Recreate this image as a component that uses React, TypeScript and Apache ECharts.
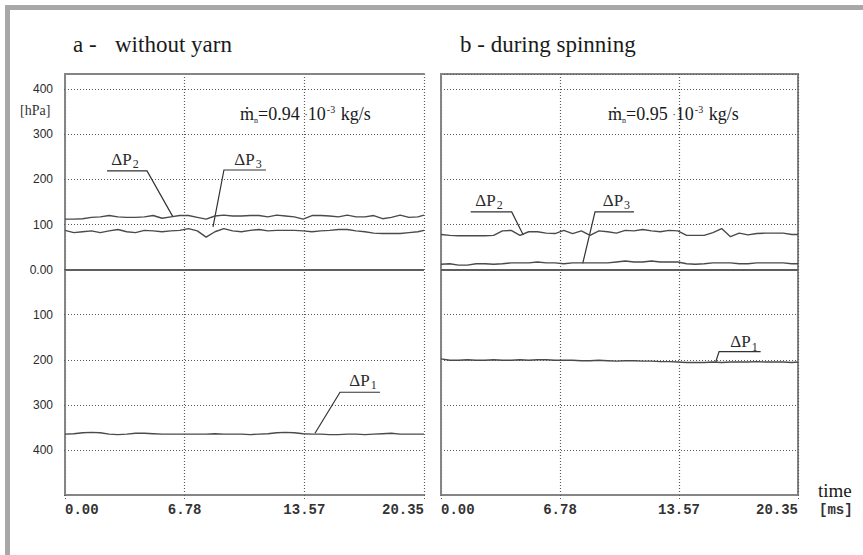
import React, { useEffect, useRef } from 'react';
import * as echarts from 'echarts';

// ---- sample times [ms] ----
const TIME_MS = [0, 0.5, 1, 1.5, 2, 2.5, 3, 3.5, 4, 4.5, 5, 5.5, 6, 6.5, 7, 7.5, 8, 8.5, 9, 9.5, 10, 10.5, 11, 11.5, 12, 12.5, 13, 13.5, 14, 14.5, 15, 15.5, 16, 16.5, 17, 17.5, 18, 18.5, 19, 19.5, 20, 20.35];

// ---- a - without yarn [hPa] ----
const A_DP2 = [112, 112, 113, 116, 117, 120, 117, 116, 116, 117, 120, 114, 117, 120, 120, 116, 112, 119, 121, 119, 119, 120, 120, 117, 121, 119, 117, 112, 120, 120, 119, 117, 121, 117, 117, 120, 113, 116, 121, 116, 117, 121];
const A_DP3 = [87, 82, 84, 86, 82, 86, 89, 84, 82, 87, 86, 84, 86, 87, 91, 86, 72, 84, 91, 86, 84, 87, 89, 86, 87, 87, 87, 86, 84, 86, 87, 89, 89, 86, 84, 81, 80, 80, 80, 82, 84, 87];
const A_DP1 = [-365, -364, -362, -361, -362, -365, -366, -365, -363, -363, -364, -365, -365, -365, -365, -365, -365, -364, -365, -365, -365, -366, -365, -364, -362, -361, -362, -364, -365, -365, -366, -366, -365, -365, -366, -365, -364, -363, -365, -365, -365, -365];

// ---- b - during spinning [hPa] ----
const B_DP2 = [78, 76, 75, 75, 75, 75, 76, 86, 87, 76, 84, 84, 81, 80, 87, 80, 86, 76, 86, 84, 81, 87, 86, 89, 86, 84, 87, 86, 76, 76, 76, 82, 91, 73, 81, 77, 80, 81, 81, 81, 78, 78];
const B_DP3 = [12, 13, 10, 10, 13, 13, 12, 13, 15, 15, 15, 17, 15, 15, 13, 15, 15, 15, 15, 15, 17, 19, 17, 17, 19, 17, 17, 17, 13, 12, 13, 15, 15, 15, 13, 13, 15, 15, 15, 15, 13, 13];
const B_DP1 = [-198, -201, -201, -200, -201, -201, -200, -201, -201, -200, -201, -200, -200, -201, -201, -201, -202, -202, -201, -202, -203, -202, -202, -203, -203, -204, -204, -205, -206, -206, -206, -205, -206, -205, -205, -205, -204, -205, -205, -205, -206, -205];

// ---- axes ----
const X_MAX = 20.35;
const X_TICKS = [0, 6.78, 13.57, 20.35];
const Y_MIN = -500;
const Y_MAX = 434;
const Y_TICK_VALUES = [400, 300, 200, 100, 0, -100, -200, -300, -400];
const Y_TICK_LABELS = ['400', '300', '200', '100', '0.00', '100', '200', '300', '400'];

// ---- texts ----
const TITLE_A_1 = 'a -';
const TITLE_A_2 = 'without yarn';
const TITLE_B = 'b - during spinning';
const FLOW_A = '0.94';
const FLOW_B = '0.95';

// annotation anchors in data coordinates [t, p]
const ANN_A = [
  { sub: '2', text: [3.4, 243], line: [[2.38, 219], [4.65, 219], [6.12, 117]] },
  { sub: '3', text: [10.37, 243], line: [[11.39, 221], [9.01, 221], [8.39, 95]] },
  { sub: '1', text: [16.89, -247], line: [[17.86, -272], [15.59, -272], [14.17, -363]] },
];
const ANN_B = [
  { sub: '2', text: [2.74, 152], line: [[1.69, 128], [4.03, 128], [4.69, 77]] },
  { sub: '3', text: [10.0, 152], line: [[11.0, 128], [8.78, 128], [8.08, 14]] },
  { sub: '1', text: [17.27, -162], line: [[18.22, -182], [15.85, -182], [15.66, -205]] },
];
const FLOW_POS_A = [9.92, 345];
const FLOW_POS_B = [9.52, 345];

const SERIF = "'Liberation Serif', 'DejaVu Serif', serif";
const MONO = "'Liberation Mono', 'DejaVu Sans Mono', monospace";
const SANS = "'Liberation Sans', Arial, sans-serif";
const LINE_C = '#4a4a4a';
const BORDER_C = '#858585';
const GRID_C = '#5a5a5a';
const TEXT_C = '#1a1a1a';

function pairs(vals: number[]) {
  return TIME_MS.map((t, i) => [t, vals[i]]);
}

function xLabel(v: number) {
  const hit = X_TICKS.find((x) => Math.abs(x - v) < 0.01);
  return hit !== undefined ? hit.toFixed(2) : '';
}
function yLabel(v: number) {
  const i = Y_TICK_VALUES.findIndex((y) => Math.abs(y - v) < 1e-6);
  return i >= 0 ? Y_TICK_LABELS[i] : '';
}

let measureCtx: CanvasRenderingContext2D | null = null;
function measure(text: string, size: number, family: string) {
  if (!measureCtx) measureCtx = document.createElement('canvas').getContext('2d');
  if (!measureCtx) return text.length * size * 0.5;
  measureCtx.font = `${size}px ${family}`;
  return measureCtx.measureText(text).width;
}

export default function App() {
  const ref = useRef<HTMLDivElement>(null);
  useEffect(() => {
    if (!ref.current) return;
    const chart = echarts.init(ref.current, undefined, { renderer: 'svg' });

    const splitLine = { show: true, lineStyle: { color: GRID_C, type: [1, 2] as any, width: 1.2 } };
    const xBase = (grid: number) => ({
      type: 'value' as const,
      gridIndex: grid,
      min: 0,
      max: X_MAX,
      interval: X_MAX / 3,
      axisLine: { show: true, onZero: false, lineStyle: { color: BORDER_C, width: 2 } },
      axisTick: { show: true, length: 4, lineStyle: { color: GRID_C, type: [1, 2] as any } },
      axisLabel: {
        show: true,
        formatter: xLabel,
        fontFamily: MONO,
        fontWeight: 'bold' as const,
        fontSize: 14,
        color: '#333',
        margin: 8,
        alignMinLabel: 'left',
        alignMaxLabel: 'right',
        showMinLabel: true,
        showMaxLabel: true,
      },
      splitLine,
    });
    const yBase = (grid: number, labels: boolean) => ({
      type: 'value' as const,
      gridIndex: grid,
      min: Y_MIN,
      max: Y_MAX,
      interval: 100,
      axisLine: { show: true, onZero: false, lineStyle: { color: BORDER_C, width: 2 } },
      axisTick: { show: labels, length: 3, lineStyle: { color: GRID_C, type: [1, 2] as any } },
      axisLabel: {
        show: labels,
        formatter: yLabel,
        fontFamily: SANS,
        fontSize: 12,
        color: '#2a2a2a',
        margin: 12,
        showMaxLabel: false,
      },
      splitLine,
    });
    const lineSeries = (name: string, x: number, y: number, vals: number[], extra: any = {}) => ({
      type: 'line' as const,
      name,
      xAxisIndex: x,
      yAxisIndex: y,
      data: pairs(vals),
      symbol: 'none',
      silent: true,
      lineStyle: { color: LINE_C, width: 1.4 },
      ...extra,
    });
    const zeroLine = {
      markLine: {
        silent: true,
        symbol: ['none', 'none'],
        label: { show: false },
        lineStyle: { type: 'solid', color: '#5e5e5e', width: 2 },
        data: [{ yAxis: 0 }],
      },
    };

    const option: any = {
      animation: false,
      backgroundColor: '#ffffff',
      grid: [
        { left: 65, top: 74, width: 359, height: 421, show: false },
        { left: 441, top: 74, width: 357, height: 421, show: true, borderColor: BORDER_C, borderWidth: 2, backgroundColor: 'transparent' },
      ],
      xAxis: [
        xBase(0),
        xBase(1),
        {
          type: 'value', gridIndex: 0, position: 'top', min: 0, max: X_MAX,
          axisLine: { show: true, onZero: false, lineStyle: { color: BORDER_C, width: 2 } },
          axisTick: { show: false }, axisLabel: { show: false }, splitLine: { show: false },
        },
      ],
      yAxis: [yBase(0, true), yBase(1, false)],
      series: [
        lineSeries('ΔP2 a', 0, 0, A_DP2),
        lineSeries('ΔP3 a', 0, 0, A_DP3),
        lineSeries('ΔP1 a', 0, 0, A_DP1, zeroLine),
        lineSeries('ΔP2 b', 1, 1, B_DP2),
        lineSeries('ΔP3 b', 1, 1, B_DP3),
        lineSeries('ΔP1 b', 1, 1, B_DP1, zeroLine),
      ],
    };
    chart.setOption(option);

    const toPx = (seriesIndex: number, p: number[]) => chart.convertToPixel({ seriesIndex }, p) as number[];

    // text placed by its left edge and alphabetic baseline (middle = baseline - 0.34 em)
    const txt = (x: number, baseline: number, text: string, size: number, family: string, extra: any = {}) => ({
      type: 'text',
      x,
      y: baseline - 0.34 * size,
      silent: true,
      style: {
        text,
        fontSize: size,
        fontFamily: family,
        fill: TEXT_C,
        textAlign: 'left',
        textVerticalAlign: 'middle',
        ...extra,
      },
    });

    const graphics: any[] = [
      { type: 'rect', shape: { x: 5, y: 5, width: 858, height: 5 }, style: { fill: '#a8a8a8' }, silent: true },
      { type: 'rect', shape: { x: 5, y: 5, width: 5, height: 550 }, style: { fill: '#a8a8a8' }, silent: true },
      txt(73, 52, TITLE_A_1, 23, SERIF),
      txt(115, 52, TITLE_A_2, 23, SERIF),
      txt(460, 52, TITLE_B, 23, SERIF),
      txt(20, 115, '[hPa]', 14, SERIF, { fill: '#333' }),
      txt(818, 497, 'time', 19, SERIF),
      txt(819, 515, '[ms]', 14, MONO, { fontWeight: 'bold', fill: '#333' }),
    ];

    // mass flow annotation: ṁ_n = 0.94 ·10^-3 kg/s
    const addFlow = (seriesIndex: number, pos: number[], val: string) => {
      const [x0, yMid] = toPx(seriesIndex, pos);
      const base = yMid + 6;
      let x = x0;
      const piece = (t: string, size: number, dy: number, gap = 0) => {
        graphics.push(txt(x, base + dy, t, size, SERIF));
        x += measure(t, size, SERIF) + gap;
      };
      piece('ṁ', 18, 0, 0);
      piece('n', 8, 3, 0);
      piece(`=${val} `, 18, 0);
      piece('·', 11, -2);
      piece('10', 18, 0, 1);
      piece('-3', 10, -7, 1);
      piece(' kg/s', 18, 0);
    };
    addFlow(0, FLOW_POS_A, FLOW_A);
    addFlow(3, FLOW_POS_B, FLOW_B);

    // ΔP annotations with leader lines
    const addAnn = (seriesIndex: number, anns: typeof ANN_A) => {
      anns.forEach((a) => {
        const pts = a.line.map((p) => toPx(seriesIndex, p));
        graphics.push({
          type: 'polyline', silent: true,
          shape: { points: pts },
          style: { stroke: '#333', lineWidth: 1.2, fill: null },
        });
        const [tx, ty] = toPx(seriesIndex, a.text);
        const wMain = measure('ΔP', 17, SERIF);
        const wSub = measure(a.sub, 12, SERIF);
        const left = tx - (wMain + 1 + wSub) / 2;
        const base = ty + 5;
        graphics.push(txt(left, base, 'ΔP', 17, SERIF, { fill: '#2a2a2a' }));
        graphics.push(txt(left + wMain + 1, base + 3, a.sub, 12, SERIF, { fill: '#2a2a2a' }));
      });
    };
    addAnn(0, ANN_A);
    addAnn(3, ANN_B);

    chart.setOption({ graphic: graphics });

    return () => chart.dispose();
  }, []);

  return <div ref={ref} style={{ position: 'absolute', left: 0, top: 0, width: 863, height: 555 }} />;
}
